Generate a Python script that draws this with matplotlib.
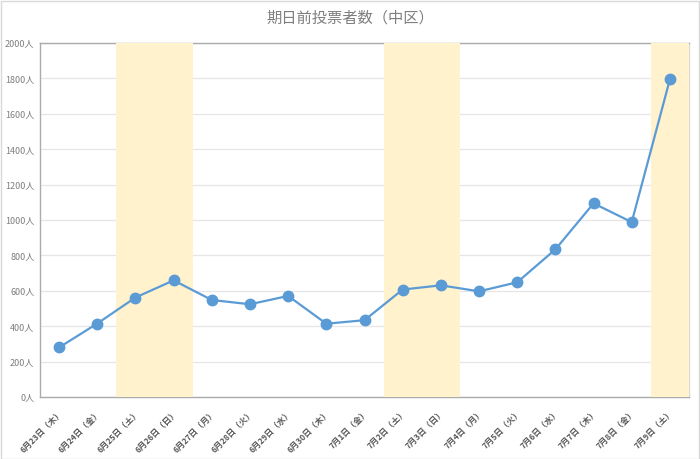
import matplotlib
matplotlib.use("Agg")
import matplotlib.pyplot as plt
from matplotlib.patches import Rectangle

plt.rcParams['font.family'] = ['Noto Sans CJK JP', 'DejaVu Sans']

dates = ["6月23日（木）", "6月24日（金）", "6月25日（土）", "6月26日（日）", "6月27日（月）",
         "6月28日（火）", "6月29日（水）", "6月30日（木）", "7月1日（金）", "7月2日（土）",
         "7月3日（日）", "7月4日（月）", "7月5日（火）", "7月6日（水）", "7月7日（木）",
         "7月8日（金）", "7月9日（土）"]
voters = [280, 415, 562, 659, 548, 524, 571, 414, 434, 607, 631, 597, 648, 834, 1094, 988, 1795]
weekend_spans = [(2, 3), (9, 10), (16, 16)]
yticks = [0, 200, 400, 600, 800, 1000, 1200, 1400, 1600, 1800, 2000]
title = "期日前投票者数（中区）"

fig = plt.figure(figsize=(7, 4.59), dpi=100)
fig.patch.set_facecolor('white')
fig.add_artist(Rectangle((0.001, 0.001), 0.998, 0.997, transform=fig.transFigure,
                         fill=False, edgecolor='#D9D9D9', linewidth=1))
ax = fig.add_axes([40/700, 62/459, 649/700, 354/459])

x = list(range(len(voters)))
for a, b in weekend_spans:
    ax.axvspan(a - 0.5, b + 0.5, color='#FFF2CC', zorder=2.6, linewidth=0)

ax.plot(x, voters, color='#5B9BD5', linewidth=1.6, marker='o', markersize=7.5,
        zorder=4, clip_on=False)

ax.set_xlim(-0.5, len(voters) - 0.5)
ax.set_ylim(0, 2000)
ax.set_yticks(yticks)
ax.set_yticklabels([f"{v}人" for v in yticks], fontsize=6.5, color='#7F7F7F')
ax.set_xticks(x)
ax.set_xticklabels(dates, rotation=45, ha='right', va='top', fontsize=6,
                   color='#595959', rotation_mode='anchor', fontweight='bold')
ax.tick_params(axis='both', length=0, pad=4)
ax.tick_params(axis='x', pad=8)
ax.grid(axis='y', color='#E6E6E6', linewidth=0.9, zorder=0.5)
ax.set_axisbelow(True)
for s in ax.spines.values():
    s.set_color('#ABABAB')
    s.set_linewidth(1)
ax.spines['right'].set_color('#D9D9D9')

fig.text(0.5, 1 - 18/459, title, ha='center', va='center', fontsize=11, color='#7F7F7F')

fig.savefig('out.png', dpi=100, facecolor='white')
